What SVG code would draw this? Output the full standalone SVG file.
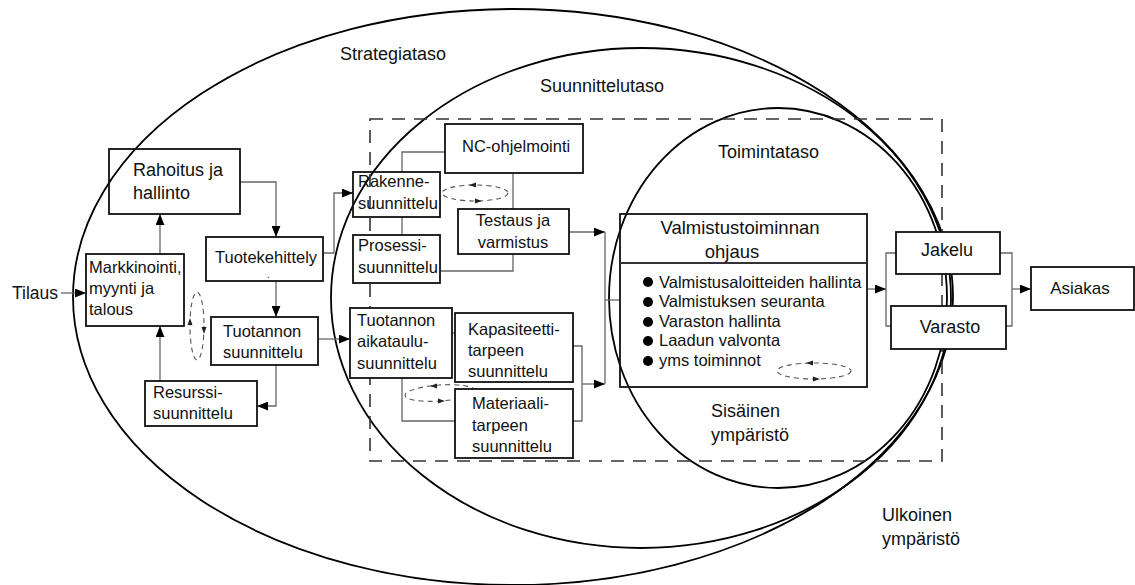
<svg xmlns="http://www.w3.org/2000/svg" width="1135" height="585" viewBox="0 0 1135 585">
  <style>
    .lvl { fill: none; stroke: #000; stroke-width: 1.8; }
    .zone { fill: none; stroke: #333; stroke-width: 1.6; stroke-dasharray: 13 9; }
    .box { fill: #fff; stroke: #111; stroke-width: 1.8; }
    .open { fill: none; stroke: #111; stroke-width: 1.8; }
    .con { fill: none; stroke: #666; stroke-width: 1.3; }
    .arr { fill: none; stroke: #666; stroke-width: 1.3; marker-end: url(#head); }
    .loop { fill: none; stroke: #555; stroke-width: 1.1; stroke-dasharray: 5 4; }
    .tip { fill: #222; }
    text { font-family: "Liberation Sans", Arial, sans-serif; fill: #111; }
    .t { font-size: 16.5px; }
    .lbl { font-size: 18px; }
    .big { font-size: 18px; }
  </style>
  <defs>
    <marker id="head" viewBox="0 0 10 8" refX="10" refY="4" markerWidth="11" markerHeight="9" markerUnits="userSpaceOnUse" orient="auto">
      <path d="M0,0 L10,4 L0,8 z" fill="#000"/>
    </marker>
  </defs>

  <!-- organisational levels -->
  <g id="levels">
    <ellipse class="lvl" cx="513" cy="297" rx="440" ry="288"/>
    <ellipse class="lvl" cx="641" cy="298" rx="310" ry="250"/>
    <ellipse class="lvl" cx="778" cy="298" rx="169" ry="190"/>
    <rect class="zone" x="370" y="119" width="572" height="342"/>
    <text class="lbl" x="340" y="60">Strategiataso</text>
    <text class="lbl" x="540" y="92">Suunnittelutaso</text>
    <text class="lbl" x="718" y="158">Toimintataso</text>
    <text class="lbl" x="711" y="417">Sisäinen</text>
    <text class="lbl" x="711" y="441">ympäristö</text>
    <text class="lbl" x="882" y="521">Ulkoinen</text>
    <text class="lbl" x="882" y="545">ympäristö</text>
  </g>

  <!-- connectors -->
  <g id="connectors">
    <path class="arr" d="M61,293 H86"/>
    <path class="arr" d="M160,254 V214"/>
    <path class="arr" d="M160,381 V326"/>
    <path class="arr" d="M240,182 H276 V237"/>
    <path class="arr" d="M276,281 V317"/>
    <path class="arr" d="M276,365 V406 H257"/>
    <path class="arr" d="M323,253 H334 V193 H353"/>
    <path class="arr" d="M318,339 H350"/>
    <path class="con" d="M402,172 V152 H445"/>
    <path class="con" d="M402,217 V235"/>
    <path class="con" d="M513,173 V209"/>
    <path class="con" d="M513,254 V271 H440"/>
    <path class="arr" d="M569,232 H605"/>
    <path class="con" d="M452,333 H455"/>
    <path class="con" d="M402,378 V421 H455"/>
    <path class="con" d="M573,346 H582 V421 H573"/>
    <path class="arr" d="M582,384 H605"/>
    <path class="con" d="M605,232 V384"/>
    <path class="con" d="M605,300 H620"/>
    <path class="arr" d="M867,289 H886"/>
    <path class="con" d="M896,253 H886 V326 H891"/>
    <path class="con" d="M1000,253 H1012 V326 H1006"/>
    <path class="arr" d="M1012,289 H1031"/>

    <!-- feedback loops -->
    <ellipse class="loop" cx="197" cy="326" rx="7" ry="34"/>
    <path class="tip" d="M190,318 L187.5,325 L192.5,325 z"/>
    <path class="tip" d="M204,334 L201.5,327 L206.5,327 z"/>
    <ellipse class="loop" cx="475" cy="193" rx="33" ry="8"/>
    <path class="tip" d="M469,185 L476,182.5 L476,187.5 z"/>
    <path class="tip" d="M482,201 L475,198.5 L475,203.5 z"/>
    <ellipse class="loop" cx="440" cy="393" rx="35" ry="8" transform="rotate(-4 440 393)"/>
    <path class="tip" d="M430,386 L437,383.5 L437,388.5 z"/>
    <path class="tip" d="M445,401 L438,398.5 L438,403.5 z"/>
    <ellipse class="loop" cx="814" cy="371" rx="37" ry="8"/>
    <path class="tip" d="M806,363 L813,360.5 L813,365.5 z"/>
    <path class="tip" d="M820,379 L813,376.5 L813,381.5 z"/>
  </g>

  <g id="tilaus">
    <text x="12" y="299" style="font-size:17.5px">Tilaus</text>
  </g>

  <g id="rahoitus">
    <rect class="open" x="109" y="149" width="131" height="65"/>
    <text class="big" x="133" y="176">Rahoitus ja</text>
    <text class="big" x="133" y="199">hallinto</text>
  </g>

  <g id="markkinointi">
    <rect class="box" x="86" y="254" width="98" height="72"/>
    <text class="t" x="89" y="273">Markkinointi,</text>
    <text class="t" x="89" y="294">myynti ja</text>
    <text class="t" x="89" y="315">talous</text>
  </g>

  <g id="tuotekehittely">
    <rect class="box" x="206" y="237" width="117" height="44"/>
    <text class="t" x="215" y="263">Tuotekehittely</text>
    <text x="267" y="278" style="font-size:10px">.</text>
  </g>

  <g id="tuotannon-suunnittelu">
    <rect class="box" x="211" y="317" width="107" height="48"/>
    <text class="t" x="223" y="337">Tuotannon</text>
    <text class="t" x="223" y="358">suunnittelu</text>
  </g>

  <g id="resurssi">
    <rect class="box" x="145" y="381" width="112" height="45"/>
    <text class="t" x="153" y="398">Resurssi-</text>
    <text class="t" x="153" y="419">suunnittelu</text>
  </g>

  <g id="nc">
    <rect class="box" x="445" y="124" width="138" height="49"/>
    <text class="t" x="462" y="152">NC-ohjelmointi</text>
  </g>

  <g id="rakenne">
    <rect class="open" x="353" y="172" width="87" height="45"/>
    <text class="t" x="358" y="187">Rakenne-</text>
    <text class="t" x="358" y="209">suunnittelu</text>
  </g>

  <g id="prosessi">
    <rect class="box" x="353" y="235" width="87" height="48"/>
    <text class="t" x="358" y="251">Prosessi-</text>
    <text class="t" x="358" y="273">suunnittelu</text>
  </g>

  <g id="testaus">
    <rect class="box" x="458" y="209" width="111" height="45"/>
    <text class="t" x="513" y="226" text-anchor="middle">Testaus ja</text>
    <text class="t" x="513" y="248" text-anchor="middle">varmistus</text>
  </g>

  <g id="aikataulu">
    <rect class="box" x="350" y="308" width="102" height="70"/>
    <text class="t" x="357" y="326">Tuotannon</text>
    <text class="t" x="357" y="347">aikataulu-</text>
    <text class="t" x="357" y="369">suunnittelu</text>
  </g>

  <g id="kapasiteetti">
    <rect class="box" x="455" y="313" width="118" height="69"/>
    <text class="t" x="468" y="335">Kapasiteetti-</text>
    <text class="t" x="468" y="356">tarpeen</text>
    <text class="t" x="468" y="377">suunnittelu</text>
  </g>

  <g id="materiaali">
    <rect class="box" x="455" y="389" width="118" height="69"/>
    <text class="t" x="472" y="409">Materiaali-</text>
    <text class="t" x="472" y="431">tarpeen</text>
    <text class="t" x="472" y="452">suunnittelu</text>
  </g>

  <g id="valmistus">
    <rect class="open" x="620" y="214" width="247" height="173"/>
    <line x1="620" y1="263" x2="867" y2="263" stroke="#333" stroke-width="2"/>
    <text x="740" y="234" text-anchor="middle" style="font-size:18.5px">Valmistustoiminnan</text>
    <text x="732" y="258" text-anchor="middle" style="font-size:18.5px">ohjaus</text>
    <g fill="#000">
      <circle cx="648" cy="282" r="5"/>
      <circle cx="648" cy="302" r="5"/>
      <circle cx="648" cy="322" r="5"/>
      <circle cx="648" cy="341" r="5"/>
      <circle cx="648" cy="361" r="5"/>
    </g>
    <text class="t" x="659" y="288">Valmistusaloitteiden hallinta</text>
    <text class="t" x="659" y="307">Valmistuksen seuranta</text>
    <text class="t" x="659" y="327">Varaston hallinta</text>
    <text class="t" x="659" y="346">Laadun valvonta</text>
    <text class="t" x="659" y="366">yms toiminnot</text>
  </g>

  <g id="jakelu">
    <rect class="box" x="896" y="232" width="104" height="42"/>
    <text x="947" y="256" text-anchor="middle" style="font-size:18px">Jakelu</text>
  </g>

  <g id="varasto">
    <rect class="box" x="891" y="306" width="115" height="43"/>
    <text x="950" y="333" text-anchor="middle" style="font-size:18px">Varasto</text>
  </g>

  <g id="asiakas">
    <rect class="box" x="1031" y="267" width="103" height="43"/>
    <text x="1080" y="294" text-anchor="middle" style="font-size:17px">Asiakas</text>
  </g>
</svg>
